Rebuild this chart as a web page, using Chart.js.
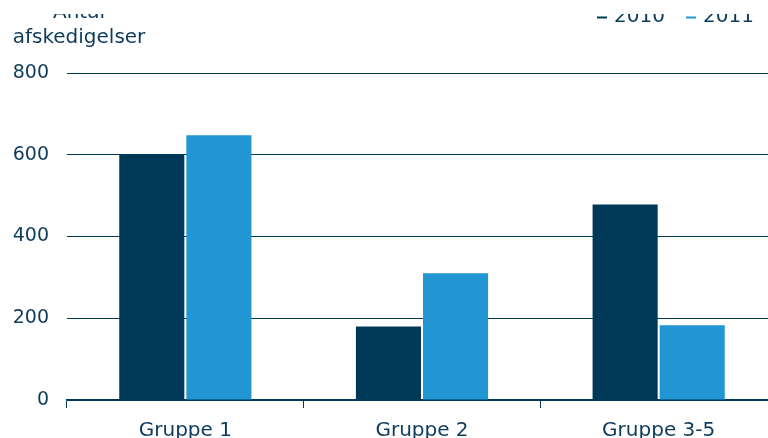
<!DOCTYPE html>
<html>
<head>
<meta charset="utf-8">
<script src="https://cdn.jsdelivr.net/npm/chart.js@4"></script>
<style>
  html, body { margin: 0; padding: 0; overflow: hidden; background: #fff; }
  #wrap { width: 777px; height: 438px; position: relative; }
</style>
</head>
<body>
<div id="wrap"><canvas id="myChart"></canvas></div>
<script>
const categories = ['Gruppe 1', 'Gruppe 2', 'Gruppe 3-5'];
const values2010 = [600, 180, 478];
const values2011 = [648, 310, 183];
const seriesNames = ['2010', '2011'];
const yTitle = ['Antal', 'afskedigelser'];

const navy = '#003957';
const blue = '#2196d3';
const textColor = '#0d3b5c';
const font = 'DejaVu Sans';

// y-axis title and line legend drawn at the top, cut off like the original
const topTexts = {
    id: 'topTexts',
    afterDraw(chart) {
        const c = chart.ctx;
        c.save();
        c.font = '20px ' + font;
        c.fillStyle = textColor;
        c.textAlign = 'center';
        c.fillText(yTitle[1], 79, 43);

        c.beginPath();
        c.rect(0, 14, chart.width, chart.height);
        c.clip();
        c.fillText(yTitle[0], 79, 18);

        const items = [[597, navy, seriesNames[0]], [686, blue, seriesNames[1]]];
        c.textAlign = 'left';
        items.forEach(([x, col, label]) => {
            c.strokeStyle = col;
            c.lineWidth = 2;
            c.beginPath();
            c.moveTo(x, 17.5);
            c.lineTo(x + 10, 17.5);
            c.stroke();
            c.fillStyle = textColor;
            c.fillText(label, x + 17, 22);
        });
        c.restore();
    }
};

new Chart(document.getElementById('myChart'), {
    type: 'bar',
    data: {
        labels: categories,
        datasets: [{
            label: seriesNames[0],
            data: values2010,
            backgroundColor: navy,
            barPercentage: 0.97,
            categoryPercentage: 0.567,
        }, {
            label: seriesNames[1],
            data: values2011,
            backgroundColor: blue,
            barPercentage: 0.97,
            categoryPercentage: 0.567,
        }]
    },
    options: {
        responsive: true,
        maintainAspectRatio: false,
        animation: false,
        layout: { padding: { top: 73, right: 0, left: 0, bottom: 0 } },
        plugins: { legend: { display: false }, tooltip: { enabled: false } },
        scales: {
            x: {
                afterFit: s => { s.height = 38; },
                grid: {
                    offset: true,
                    drawOnChartArea: false,
                    tickLength: 8,
                    color: navy,
                },
                border: { display: true, color: navy, width: 1.5 },
                ticks: { color: textColor, font: { family: font, size: 20 }, padding: 11 },
            },
            y: {
                min: 0,
                max: 800,
                afterFit: s => { s.width = 67; },
                ticks: { stepSize: 200, color: textColor, font: { family: font, size: 19 }, padding: 18 },
                grid: { color: navy, lineWidth: 1, drawTicks: false },
                border: { display: false },
            }
        }
    },
    plugins: [topTexts]
});
</script>
</body>
</html>
